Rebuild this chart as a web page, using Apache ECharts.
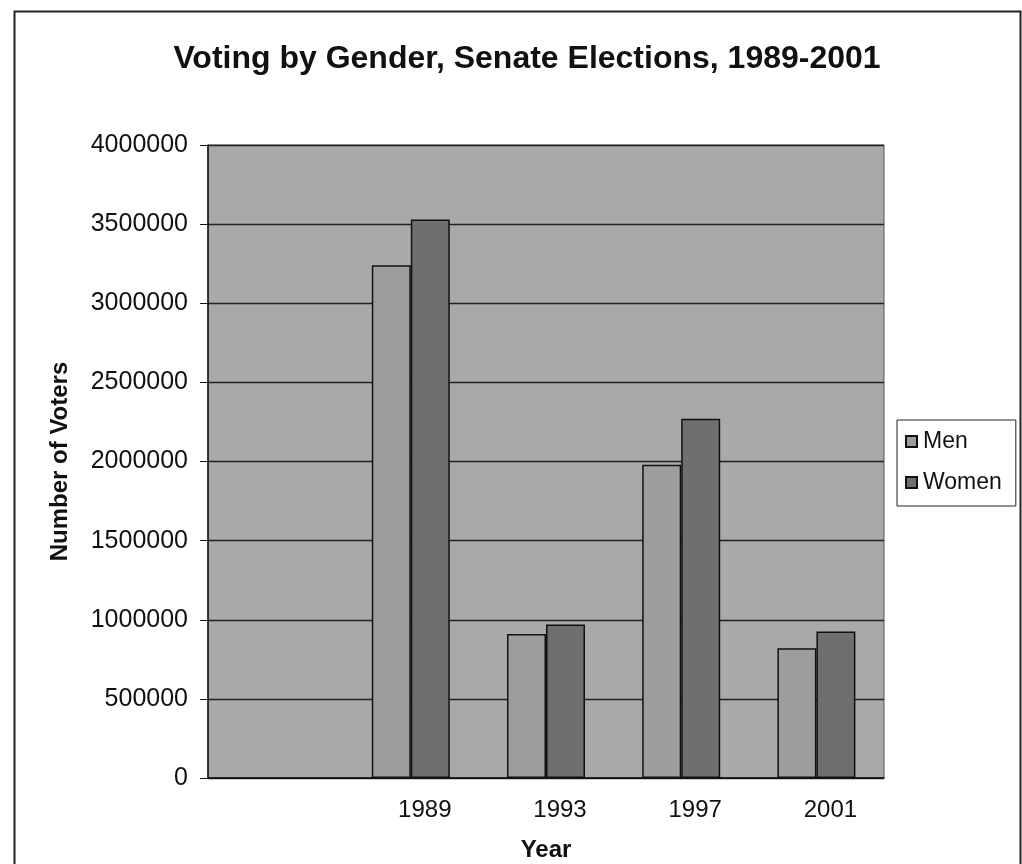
<!DOCTYPE html>
<html>
<head>
<meta charset="utf-8">
<script src="https://cdn.jsdelivr.net/npm/echarts@6/dist/echarts.min.js"></script>
<style>
  html, body { margin: 0; padding: 0; background: #ffffff; }
  #chart { width: 1022px; height: 864px; }
</style>
</head>
<body>
<div id="chart"></div>
<script>
// Senate election turnout by gender
const years = ['1989', '1993', '1997', '2001'];
const menVoters = [3240000, 910000, 1980000, 820000];
const womenVoters = [3530000, 970000, 2270000, 925000];
const yTicks = [0, 500000, 1000000, 1500000, 2000000, 2500000, 3000000, 3500000, 4000000];

// The category axis keeps an empty leading slot before the first year
const categories = [''].concat(years);
const menSeries = [null].concat(menVoters);
const womenSeries = [null].concat(womenVoters);

const FONT = '"Liberation Sans", Arial, sans-serif';

const chart = echarts.init(document.getElementById('chart'), null, { renderer: 'canvas' });

chart.setOption({
  backgroundColor: '#ffffff',
  animation: false,
  title: {
    text: 'Voting by Gender, Senate Elections, 1989-2001',
    left: 522,
    textAlign: 'center',
    top: 38,
    textStyle: { fontFamily: FONT, fontSize: 32, fontWeight: 'bold', color: '#111111' }
  },
  legend: {
    orient: 'vertical',
    left: 897,
    top: 420,
    padding: [10, 14, 12, 8],
    itemGap: 18,
    itemWidth: 11,
    itemHeight: 11,
    icon: 'rect',
    borderColor: '#222222',
    borderWidth: 1,
    backgroundColor: '#ffffff',
    textStyle: { fontFamily: FONT, fontSize: 23, color: '#111111', padding: [0, 0, 0, 1] },
    data: ['Men', 'Women']
  },
  grid: {
    left: 208,
    right: 138,
    top: 145,
    bottom: 86,
    outerBoundsMode: 'none',
    containLabel: false,
    show: true,
    backgroundColor: '#a9a9a9',
    borderColor: '#555555',
    borderWidth: 1
  },
  xAxis: {
    type: 'category',
    data: categories,
    name: 'Year',
    nameLocation: 'middle',
    nameGap: 60,
    nameTextStyle: { fontFamily: FONT, fontSize: 24, fontWeight: 'bold', color: '#111111' },
    axisLine: { show: true, lineStyle: { color: '#111111', width: 1.5 } },
    axisTick: { show: false },
    axisLabel: {
      fontFamily: FONT,
      fontSize: 24,
      color: '#111111',
      margin: 20,
      padding: [0, 0, 0, 28]
    },
    splitLine: { show: false }
  },
  yAxis: {
    type: 'value',
    min: 0,
    max: 4000000,
    interval: 500000,
    name: 'Number of Voters',
    nameLocation: 'middle',
    nameGap: 136,
    nameRotate: 90,
    nameTextStyle: { fontFamily: FONT, fontSize: 24, fontWeight: 'bold', color: '#111111' },
    axisLine: { show: true, lineStyle: { color: '#111111', width: 1.5 } },
    axisTick: { show: true, inside: false, length: 8, lineStyle: { color: '#111111', width: 1 } },
    axisLabel: {
      fontFamily: FONT,
      fontSize: 25,
      color: '#111111',
      margin: 20,
      formatter: function (v) { return yTicks.indexOf(v) >= 0 ? String(v) : ''; }
    },
    splitLine: { show: true, lineStyle: { color: '#222222', width: 1.3 } }
  },
  series: [
    {
      name: 'Men',
      type: 'bar',
      data: menSeries,
      barWidth: 39,
      barGap: '0%',
      itemStyle: { color: '#9d9d9d', borderColor: '#111111', borderWidth: 1.5 }
    },
    {
      name: 'Women',
      type: 'bar',
      data: womenSeries,
      barWidth: 39,
      barGap: '0%',
      itemStyle: { color: '#6f6f6f', borderColor: '#111111', borderWidth: 1.5 }
    }
  ],
  graphic: [
    {
      type: 'rect',
      left: 12,
      top: 9,
      shape: { width: 1006, height: 870 },
      style: { fill: 'none', stroke: '#222222', lineWidth: 2 },
      silent: true
    }
  ]
});
</script>
</body>
</html>
